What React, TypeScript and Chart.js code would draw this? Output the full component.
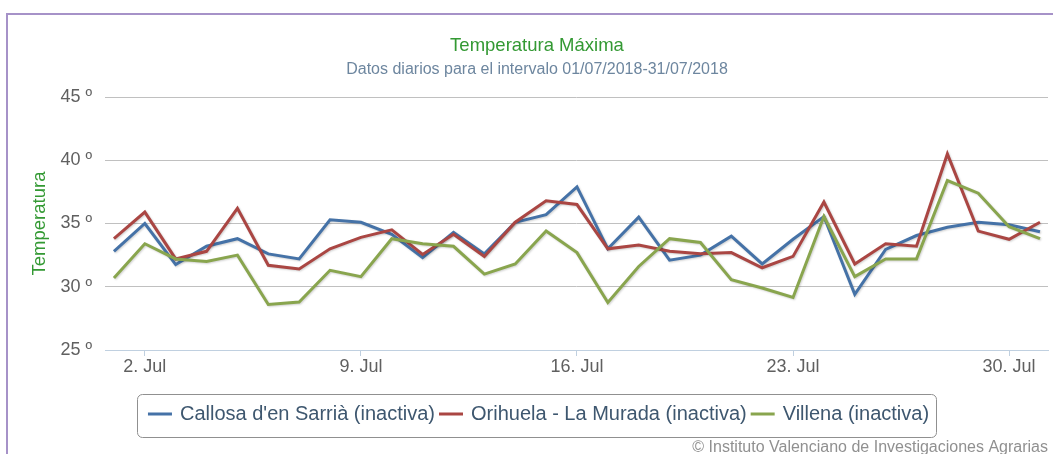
import { useEffect, useRef } from "react";
import { Chart, registerables } from "chart.js";

Chart.register(...registerables);

const days = [1, 2, 3, 4, 5, 6, 7, 8, 9, 10, 11, 12, 13, 14, 15, 16, 17, 18, 19, 20, 21, 22, 23, 24, 25, 26, 27, 28, 29, 30, 31];
const xTickDays = [2, 9, 16, 23, 30];
const yTickValues = [25, 30, 35, 40, 45];

const seriesNames = [
  "Callosa d'en Sarrià (inactiva)",
  "Orihuela - La Murada (inactiva)",
  "Villena (inactiva)",
];

const callosa = [32.8, 35.0, 31.75, 33.2, 33.8, 32.6, 32.2, 35.3, 35.1, 34.15, 32.3, 34.3, 32.6, 35.1, 35.7, 37.9, 33.0, 35.5, 32.1, 32.5, 34.0, 31.8, 33.75, 35.55, 29.4, 32.95, 34.05, 34.7, 35.1, 34.9, 34.35];
const orihuela = [33.8, 35.9, 32.2, 32.8, 36.2, 31.7, 31.4, 33.0, 33.9, 34.5, 32.55, 34.15, 32.4, 35.1, 36.8, 36.5, 33.0, 33.3, 32.8, 32.6, 32.7, 31.5, 32.4, 36.7, 31.8, 33.4, 33.2, 40.5, 34.4, 33.75, 35.1];
const villena = [30.7, 33.4, 32.2, 32.0, 32.5, 28.6, 28.8, 31.3, 30.8, 33.8, 33.4, 33.2, 31.0, 31.8, 34.4, 32.7, 28.75, 31.6, 33.8, 33.5, 30.55, 29.9, 29.15, 35.55, 30.8, 32.2, 32.2, 38.4, 37.4, 34.75, 33.8];

const seriesValues = [callosa, orihuela, villena];
const seriesColors = ["#4572A7", "#AA4643", "#89A54E"];

const titleText = "Temperatura Máxima";
const subtitleText = "Datos diarios para el intervalo 01/07/2018-31/07/2018";
const creditsText = "© Instituto Valenciano de Investigaciones Agrarias";
const yTitleText = "Temperatura";

const FONT = '"Liberation Sans", Arial, sans-serif';

const decorPlugin = {
  id: "decor",
  beforeDraw(chart: any) {
    const ctx = chart.ctx;
    ctx.save();
    ctx.fillStyle = "#ffffff";
    ctx.fillRect(0, 0, chart.width, chart.height);
    ctx.fillStyle = "#a692c8";
    ctx.fillRect(6, 13, chart.width, 2);
    ctx.fillRect(6, 13, 2, chart.height);
    ctx.restore();
  },
  beforeDatasetDraw(chart: any) {
    const ctx = chart.ctx;
    ctx.save();
    ctx.shadowColor = "rgba(0,0,0,0.18)";
    ctx.shadowOffsetX = 1;
    ctx.shadowOffsetY = 1;
    ctx.shadowBlur = 2;
  },
  afterDatasetDraw(chart: any) {
    chart.ctx.restore();
  },
  afterDraw(chart: any) {
    const ctx = chart.ctx;
    ctx.save();
    const cx = 537;
    // title
    ctx.textAlign = "center";
    ctx.textBaseline = "middle";
    ctx.fillStyle = "#339933";
    ctx.font = `18.5px ${FONT}`;
    ctx.fillText(titleText, cx, 46);
    ctx.fillStyle = "#6D869F";
    ctx.font = `16px ${FONT}`;
    ctx.fillText(subtitleText, cx, 70);

    // legend
    ctx.font = `20px ${FONT}`;
    const symW = 24;
    const symGap = 8;
    const itemGap = 4;
    const widths = seriesNames.map((n) => ctx.measureText(n).width);
    let total = 0;
    widths.forEach((w, i) => {
      total += symW + symGap + w + (i > 0 ? itemGap : 0);
    });
    const start = 538.5 - total / 2;
    const boxX = start - 11;
    const boxY = 394.5;
    const boxW = total + 18;
    const boxH = 43;
    ctx.beginPath();
    ctx.strokeStyle = "#909090";
    ctx.lineWidth = 1;
    ctx.roundRect(Math.round(boxX) + 0.5, boxY, Math.round(boxW), boxH, 5);
    ctx.stroke();
    let x = start;
    const ly = 414;
    ctx.textAlign = "left";
    seriesNames.forEach((n, i) => {
      ctx.fillStyle = seriesColors[i];
      ctx.fillRect(x, ly - 1.5, symW, 3);
      ctx.fillStyle = "#3E576F";
      ctx.fillText(n, x + symW + symGap, ly);
      x += symW + symGap + widths[i] + itemGap;
    });

    // credits
    ctx.textAlign = "right";
    ctx.fillStyle = "#909090";
    ctx.font = `16px ${FONT}`;
    ctx.fillText(creditsText, 1048, 448);
    ctx.restore();
  },
};

export default function App() {
  const canvasRef = useRef<HTMLCanvasElement | null>(null);

  useEffect(() => {
    const canvas = canvasRef.current;
    if (!canvas) return;
    const chart = new Chart(canvas, {
      type: "line",
      data: {
        datasets: seriesNames.map((name, i) => ({
          label: name,
          data: days.map((d, j) => ({ x: d, y: seriesValues[i][j] })),
          borderColor: seriesColors[i],
          backgroundColor: seriesColors[i],
          borderWidth: 3,
          pointRadius: 0,
          pointHoverRadius: 0,
          tension: 0,
          fill: false,
          order: 3 - i,
        })),
      },
      options: {
        responsive: false,
        animation: false,
        devicePixelRatio: 1,
        layout: { padding: { left: 8, right: 5, top: 97, bottom: 64 } },
        plugins: {
          legend: { display: false },
          title: { display: false },
          tooltip: { enabled: false },
        },
        scales: {
          x: {
            type: "linear",
            min: 0.71,
            max: 31.26,
            afterBuildTicks: (scale: any) => {
              scale.ticks = xTickDays.map((v) => ({ value: v }));
            },
            afterFit: (scale: any) => {
              scale.height = 40;
            },
            ticks: {
              autoSkip: false,
              maxRotation: 0,
              padding: 0,
              color: "#606060",
              font: { family: FONT, size: 18 },
              callback: (v: any) => `${v}. Jul`,
            },
            grid: {
              drawOnChartArea: false,
              drawTicks: true,
              tickLength: 6,
              color: "#C0D0E0",
            },
            border: { display: true, color: "#C0D0E0", width: 1 },
          },
          y: {
            min: 25,
            max: 45,
            afterBuildTicks: (scale: any) => {
              scale.ticks = yTickValues.map((v) => ({ value: v }));
            },
            afterFit: (scale: any) => {
              scale.width = 97;
            },
            ticks: {
              padding: 13,
              color: "#606060",
              font: { family: FONT, size: 18 },
              callback: (v: any) => `${v} º`,
            },
            grid: {
              drawTicks: false,
              color: (c: any) => (c.tick && c.tick.value === 25 ? "rgba(0,0,0,0)" : "#C0C0C0"),
              lineWidth: 1,
            },
            border: { display: false },
            title: {
              display: true,
              text: yTitleText,
              color: "#339933",
              font: { family: FONT, size: 18.5 },
              padding: { top: 21, bottom: 0 },
            },
          },
        },
      },
      plugins: [decorPlugin],
    } as any);
    return () => chart.destroy();
  }, []);

  return (
    <div style={{ position: "absolute", left: 0, top: 0, width: 1053, height: 454 }}>
      <canvas ref={canvasRef} width={1053} height={454} style={{ width: 1053, height: 454, display: "block" }} />
    </div>
  );
}
